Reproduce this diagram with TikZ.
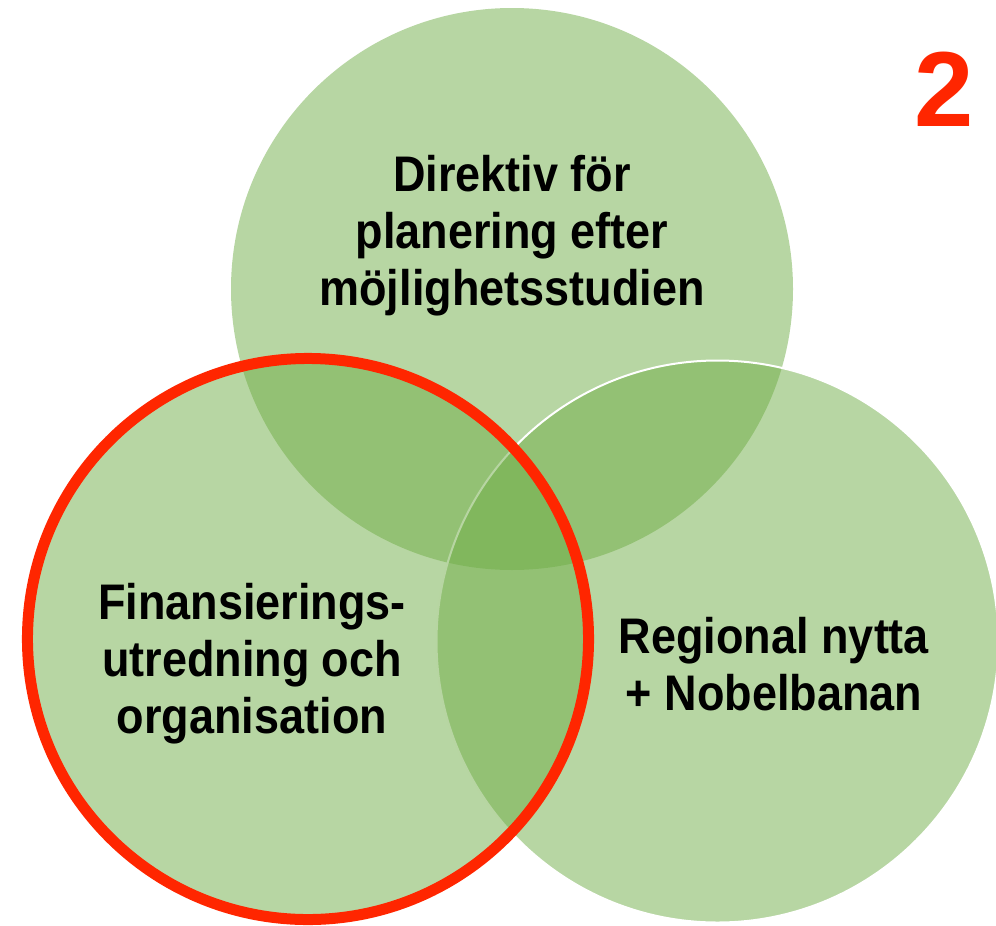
\documentclass[tikz,border=0pt]{standalone}
\usepackage{fontspec}
\setmainfont{Liberation Sans}[FakeStretch=0.9]
\newfontfamily\numfont{Liberation Sans}
\definecolor{vgreen}{HTML}{70AD47}
\definecolor{vred}{RGB}{255,38,0}
\begin{document}
\begin{tikzpicture}[x=0.75pt,y=-0.75pt,
  venn/.style={fill=vgreen,fill opacity=0.5},
  lbl/.style={align=center,inner sep=0pt,text=black,
    font=\bfseries\fontsize{37.5pt}{42.75pt}\selectfont}]
\useasboundingbox (0,0) rectangle (996,925);
\clip (0,0) rectangle (996,925);
% circles
\path[venn] (512,289) circle[radius=210.75pt];
\path[venn,draw=white,draw opacity=1,line width=1.5pt] (717.5,641.5) circle[radius=210.75pt];
\path[venn,draw=vred,draw opacity=1,line width=8.25pt] (308,639) circle[radius=210.4pt];
% labels
\node[lbl] (top) at (512,236) {Direktiv för\\planering efter\\möjlighetsstudien};
\node[lbl] (left) at (252,664) {Finansierings-\\utredning och\\organisation};
\node[lbl] (right) at (774,664) {Regional nytta\\+ Nobelbanan};
\node[inner sep=0pt,text=vred,font=\numfont\bfseries\fontsize{80pt}{90pt}\selectfont] (num) at (944,89) {2};
\end{tikzpicture}
\end{document}
